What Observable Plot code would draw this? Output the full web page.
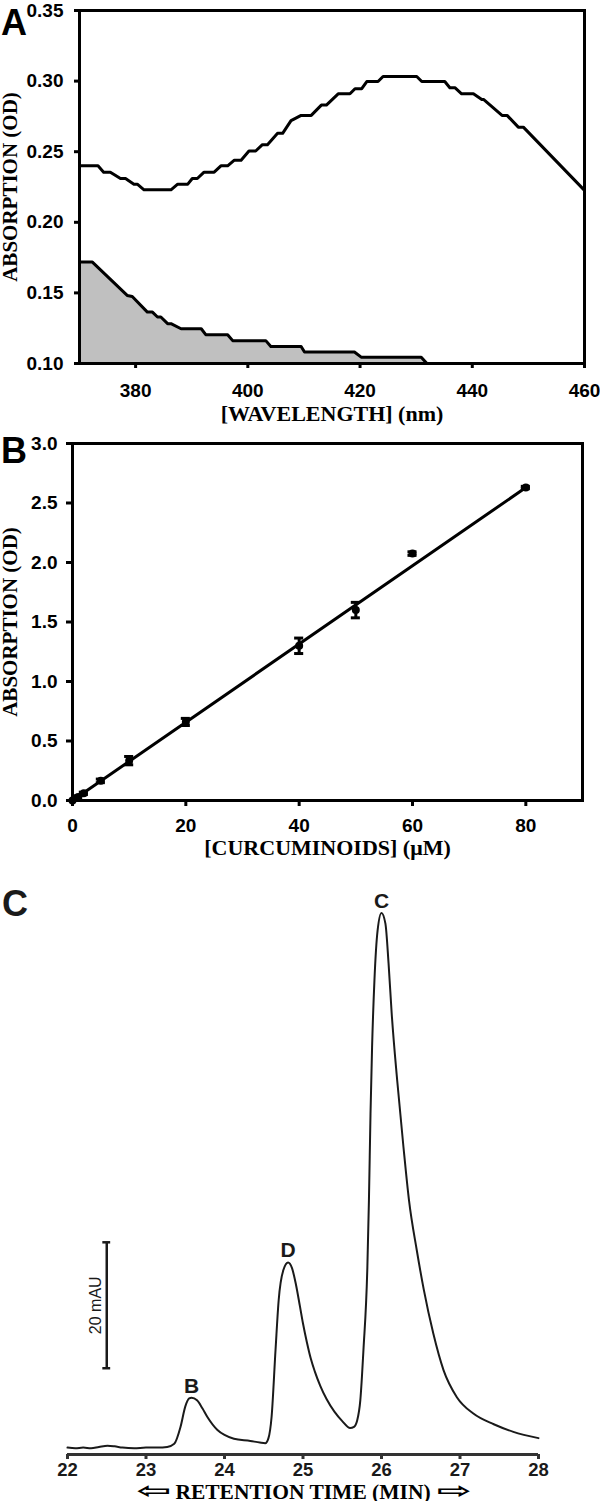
<!DOCTYPE html>
<html>
<head>
<meta charset="utf-8">
<script src="https://cdn.jsdelivr.net/npm/d3@7"></script>
<script src="https://cdn.jsdelivr.net/npm/@observablehq/plot@0.6"></script>
<style>
  html, body { margin: 0; padding: 0; background: #fff; overflow: hidden; }
  #wrap { position: relative; width: 600px; height: 1501px; }
  .panel { position: absolute; left: 0; width: 600px; }
  .letter { position: absolute; font-family: "Liberation Sans", Arial, sans-serif; font-weight: bold; font-size: 36px; line-height: 1; color: #000; }
  g[aria-label="x-axis tick label"] text, g[aria-label="y-axis tick label"] text { font-weight: bold !important; }
</style>
</head>
<body>
<div id="wrap">
  <div class="panel" id="pA" style="top:0px"></div>
  <div class="panel" id="pB" style="top:430px"></div>
  <div class="panel" id="pC" style="top:870px"></div>
  <div class="letter" style="left:1px; top:5px">A</div>
  <div class="letter" style="left:1px; top:433px">B</div>
  <div class="letter" style="left:2px; top:886px; color:#1a1a1a">C</div>
</div>
<script>
// ---------- Panel A: absorption spectra ----------
const aTicksX = [380, 400, 420, 440, 460];
const aTicksY = [0.10, 0.15, 0.20, 0.25, 0.30, 0.35];
const aUpperNm = [370, 373.3, 374.3, 375.5, 377.3, 378.2, 379.7, 380.3, 381.5, 386.3, 387.5, 389.3, 390.1, 391, 392.2, 394, 395.2, 396.4, 397.6, 398.8, 400.2, 401.4, 402.6, 403.5, 405.3, 406.2, 407.7, 409.5, 411.3, 413.1, 414, 416.1, 418.2, 419.1, 420.3, 421.2, 423.2, 424.1, 430.1, 431, 435.1, 436, 436.9, 438.1, 440.2, 441.7, 442, 445.3, 446.2, 448.2, 449.1, 460];
const aUpperOD = [0.240, 0.240, 0.2355, 0.2355, 0.231, 0.231, 0.227, 0.227, 0.223, 0.223, 0.227, 0.227, 0.231, 0.231, 0.2355, 0.2355, 0.240, 0.240, 0.244, 0.244, 0.2505, 0.2505, 0.255, 0.255, 0.263, 0.263, 0.272, 0.2757, 0.2757, 0.283, 0.283, 0.291, 0.291, 0.2946, 0.2946, 0.2997, 0.2997, 0.3033, 0.3033, 0.2997, 0.2997, 0.2953, 0.2953, 0.291, 0.291, 0.287, 0.287, 0.2757, 0.2757, 0.2674, 0.2674, 0.2226];
const aLowerNm = [370, 372.3, 378.5, 379.4, 382.1, 383, 383.9, 384.5, 385.7, 386.3, 388.1, 391.7, 392.5, 396.4, 397.3, 403.2, 404.1, 409.5, 410.1, 419, 420.2, 430.9, 431.8];
const aLowerOD = [0.1718, 0.1718, 0.1482, 0.1475, 0.1364, 0.1364, 0.1329, 0.1329, 0.1282, 0.1282, 0.1246, 0.1246, 0.1204, 0.1204, 0.1162, 0.1162, 0.1121, 0.1121, 0.1081, 0.1081, 0.1045, 0.1045, 0.1005];

// ---------- Panel B: calibration ----------
const bTicksX = [0, 20, 40, 60, 80];
const bTicksY = [0, 0.5, 1.0, 1.5, 2.0, 2.5, 3.0];
const bConc = [0, 1, 2, 5, 10, 20, 40, 50, 60, 80];
const bOD   = [0, 0.03, 0.06, 0.165, 0.335, 0.66, 1.30, 1.60, 2.075, 2.63];
const bErr  = [0, 0.01, 0.01, 0.015, 0.035, 0.03, 0.065, 0.065, 0.015, 0.01];
const bFitConc = [0, 80];
const bFitOD = [0, 2.63];

// ---------- Panel C: chromatogram ----------
const cTicksX = [22, 23, 24, 25, 26, 27, 28];
const cTime = [22.00, 22.10, 22.20, 22.30, 22.40, 22.51, 22.60, 22.70, 22.85, 23.00, 23.15, 23.27, 23.36, 23.44, 23.50, 23.55, 23.58, 23.65, 23.72, 23.78, 23.91, 24.00, 24.12, 24.33, 24.45, 24.52, 24.56, 24.60, 24.65, 24.69, 24.75, 24.81, 24.86, 24.91, 24.96, 25.00, 25.05, 25.10, 25.15, 25.22, 25.30, 25.40, 25.50, 25.60, 25.65, 25.69, 25.73, 25.77, 25.82, 25.84, 25.86, 25.88, 25.91, 25.95, 26.00, 26.05, 26.09, 26.13, 26.20, 26.28, 26.35, 26.45, 26.54, 26.66, 26.79, 26.96, 27.17, 27.43, 27.68, 28.00];
const cMAU  = [0.1, 0.0, 0.1, 0.0, 0.2, 0.4, 0.3, 0.1, 0.0, 0.1, 0.1, 0.2, 0.7, 3.4, 6.6, 7.9, 8.0, 7.6, 6.3, 5.0, 2.9, 2.1, 1.5, 1.16, 0.9, 0.8, 1.6, 5.0, 15.6, 23.5, 28.3, 29.5, 28.6, 26.0, 22.6, 19.8, 16.8, 14.2, 12.2, 9.9, 7.8, 5.8, 4.3, 3.2, 3.4, 4.4, 7.6, 15.6, 28.8, 39.4, 53.1, 63.7, 74.3, 82.2, 85.0, 83.3, 77.0, 69.0, 58.4, 47.8, 39.4, 31.4, 25.1, 18.2, 12.4, 8.1, 5.5, 3.8, 2.6, 1.6];
const cPeakNames = ["B", "D", "C"];
const cPeakTimes = [23.58, 24.81, 26.00];
const cPeakMAU   = [8.0, 29.5, 85.0];
const cYDomain = [-1, 90];
const cBarTime = 22.5;
const cBarLow = 12.7;
const cBarHigh = 32.7;
const cBarLabel = "20 mAU";

const sans = '"Liberation Sans", Arial, sans-serif';
const serif = '"Liberation Serif", "Times New Roman", serif';

// Panel A
const upper = aUpperNm.map((nm, i) => ({nm, od: aUpperOD[i]}));
const lower = aLowerNm.map((nm, i) => ({nm, od: aLowerOD[i]}));
const plotA = Plot.plot({
  width: 600, height: 430,
  marginLeft: 79, marginRight: 16, marginTop: 10, marginBottom: 67,
  style: {fontFamily: sans, fontWeight: "bold", color: "#000", background: "#fff", overflow: "visible"},
  x: {domain: [370, 460], label: null},
  y: {domain: [aTicksY[0], aTicksY[aTicksY.length - 1]], label: null},
  marks: [
    Plot.areaY(lower, {x: "nm", y1: aTicksY[0], y2: "od", fill: "#c0c0c0"}),
    Plot.line(lower, {x: "nm", y: "od", stroke: "#000", strokeWidth: 3, strokeLinejoin: "round"}),
    Plot.line(upper, {x: "nm", y: "od", stroke: "#000", strokeWidth: 3, strokeLinejoin: "round"}),
    Plot.frame({stroke: "#000", strokeWidth: 3}),
    Plot.axisX({ticks: aTicksX, tickSize: 5, tickPadding: 15, strokeWidth: 3, fontSize: 19, fontWeight: "bold", label: null}),
    Plot.axisY({ticks: aTicksY, tickFormat: d3.format(".2f"), tickSize: 5, tickPadding: 11, strokeWidth: 3, fontSize: 19, fontWeight: "bold", label: null}),
    Plot.text(["[WAVELENGTH] (nm)"], {text: d => d, frameAnchor: "bottom", dy: 57, lineAnchor: "bottom", fontFamily: serif, fontSize: 22, fontWeight: "bold"}),
    Plot.text(["ABSORPTION (OD)"], {text: d => d, frameAnchor: "left", textAnchor: "middle", rotate: -90, dx: -69, lineAnchor: "middle", fontFamily: serif, fontSize: 21, fontWeight: "bold"})
  ]
});
document.getElementById("pA").appendChild(plotA);

// Panel B
const pts = bConc.map((c, i) => ({c, od: bOD[i], lo: bOD[i] - bErr[i], hi: bOD[i] + bErr[i]}));
const fit = bFitConc.map((c, i) => ({c, od: bFitOD[i]}));
const plotB = Plot.plot({
  width: 600, height: 440,
  marginLeft: 72, marginRight: 18, marginTop: 13, marginBottom: 70,
  style: {fontFamily: sans, fontWeight: "bold", color: "#000", background: "#fff", overflow: "visible"},
  x: {domain: [0, 90], label: null},
  y: {domain: [0, 3], label: null},
  marks: [
    Plot.line(fit, {x: "c", y: "od", stroke: "#000", strokeWidth: 3}),
    Plot.ruleX(pts, {x: "c", y1: "lo", y2: "hi", stroke: "#000", strokeWidth: 3}),
    Plot.ruleY(pts, {y: "lo", x1: d => d.c - 0.8, x2: d => d.c + 0.8, stroke: "#000", strokeWidth: 3}),
    Plot.ruleY(pts, {y: "hi", x1: d => d.c - 0.8, x2: d => d.c + 0.8, stroke: "#000", strokeWidth: 3}),
    Plot.dot(pts, {x: "c", y: "od", r: 4, fill: "#000", stroke: "none"}),
    Plot.frame({stroke: "#000", strokeWidth: 3}),
    Plot.axisX({ticks: bTicksX, tickSize: 6, tickPadding: 12, strokeWidth: 3, fontSize: 19, fontWeight: "bold", label: null}),
    Plot.axisY({ticks: bTicksY, tickFormat: d3.format(".1f"), tickSize: 6, tickPadding: 9, strokeWidth: 3, fontSize: 19, fontWeight: "bold", label: null}),
    Plot.text(["[CURCUMINOIDS] (μM)"], {text: d => d, frameAnchor: "bottom", dy: 54, lineAnchor: "bottom", fontFamily: serif, fontSize: 22, fontWeight: "bold"}),
    Plot.text(["ABSORPTION (OD)"], {text: d => d, frameAnchor: "left", textAnchor: "middle", rotate: -90, dx: -62, lineAnchor: "middle", fontFamily: serif, fontSize: 21, fontWeight: "bold"})
  ]
});
document.getElementById("pB").appendChild(plotB);

// Panel C
const chrom = cTime.map((t, i) => ({t, v: cMAU[i]}));
const peaks = cPeakNames.map((n, i) => ({n, t: cPeakTimes[i], v: cPeakMAU[i]}));
const bar = [{t: cBarTime, lo: cBarLow, hi: cBarHigh, mid: (cBarLow + cBarHigh) / 2, label: cBarLabel}];
const plotC = Plot.plot({
  width: 600, height: 631,
  marginLeft: 67, marginRight: 62, marginTop: 11, marginBottom: 47,
  style: {fontFamily: sans, fontWeight: "bold", color: "#1a1a1a", background: "#fff", overflow: "visible"},
  x: {domain: [cTicksX[0], cTicksX[cTicksX.length - 1]], label: null},
  y: {domain: cYDomain, label: null, axis: null},
  marks: [
    Plot.line(chrom, {x: "t", y: "v", curve: "monotone-x", stroke: "#1a1a1a", strokeWidth: 2}),
    Plot.ruleY([cYDomain[0]], {stroke: "#333", strokeWidth: 3}),
    Plot.axisX({ticks: cTicksX, tickFormat: d3.format("d"), tickSize: 5, tickPadding: 3, stroke: "#333", strokeWidth: 3, fontSize: 18.5, fontWeight: "bold", label: null}),
    Plot.ruleX(bar, {x: "t", y1: "lo", y2: "hi", stroke: "#1a1a1a", strokeWidth: 2.5}),
    Plot.ruleY(bar, {y: "lo", x1: d => d.t - 0.05, x2: d => d.t + 0.05, stroke: "#1a1a1a", strokeWidth: 2.5}),
    Plot.ruleY(bar, {y: "hi", x1: d => d.t - 0.05, x2: d => d.t + 0.05, stroke: "#1a1a1a", strokeWidth: 2.5}),
    Plot.text(bar, {x: "t", y: "mid", text: "label", rotate: -90, dx: -6, lineAnchor: "bottom", fontSize: 16, fontWeight: "normal", fill: "#1a1a1a"}),
    Plot.text(peaks, {x: "t", y: "v", text: "n", dy: -5, lineAnchor: "bottom", fontSize: 21, fontWeight: "bold", fill: "#1a1a1a"}),
    Plot.text(["RETENTION TIME (MIN)"], {text: d => d, frameAnchor: "bottom", dy: 44, lineAnchor: "bottom", fontFamily: serif, fontSize: 21.5, fontWeight: "bold", fill: "#000"}),
    Plot.text(["⇦"], {text: d => d, frameAnchor: "bottom", dx: -149, dy: 43, lineAnchor: "bottom", fontFamily: '"DejaVu Sans", sans-serif', fontSize: 22, fontWeight: "bold", fill: "#000"}),
    Plot.text(["⇨"], {text: d => d, frameAnchor: "bottom", dx: 151, dy: 43, lineAnchor: "bottom", fontFamily: '"DejaVu Sans", sans-serif', fontSize: 22, fontWeight: "bold", fill: "#000"})
  ]
});
document.getElementById("pC").appendChild(plotC);

// widen the hollow arrow glyphs horizontally around their own anchor
d3.select(plotC).selectAll("text").filter(function () {
  return this.textContent === "⇦" || this.textContent === "⇨";
}).each(function () {
  const t = this.getAttribute("transform") || "";
  const x = parseFloat(this.getAttribute("x")) || 0;
  const y = parseFloat(this.getAttribute("y")) || 0;
  this.removeAttribute("x");
  this.removeAttribute("y");
  this.setAttribute("transform", `${t} translate(${x},${y}) scale(1.9,1)`);
});
</script>
</body>
</html>
